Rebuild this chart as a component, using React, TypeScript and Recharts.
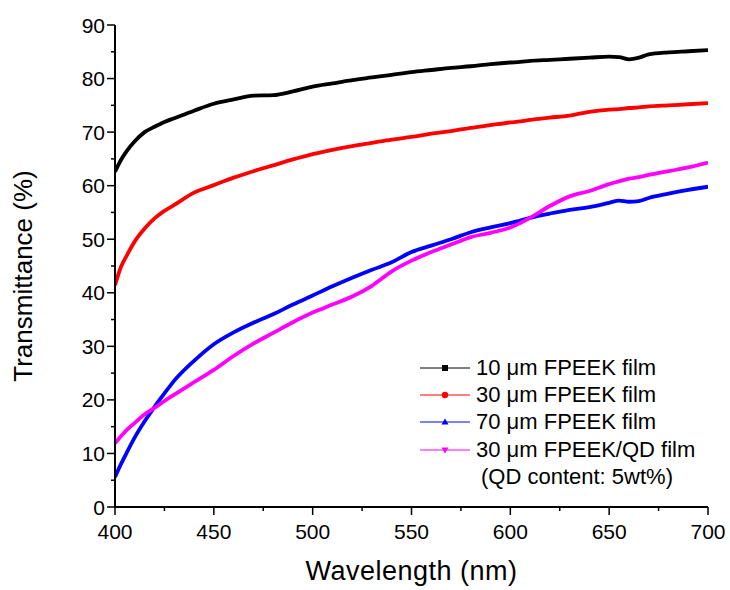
import { Label, Legend, Line, LineChart, XAxis, YAxis } from "recharts";

const FONT = "Arial, 'Liberation Sans', Helvetica, sans-serif";

const wavelengths = [
  400, 403, 406, 410, 415, 420, 425, 430, 440, 450, 460, 470, 480, 490, 500, 510, 520, 530, 540,
  550, 560, 570, 580, 590, 600, 605, 610, 620, 630, 640, 650, 655, 660, 665, 670, 680, 690, 700
];

const film10 = [
  62.6, 64.8, 66.5, 68.3, 70.0, 71.0, 71.9, 72.6, 74.0, 75.3, 76.1, 76.8, 76.9, 77.6, 78.5, 79.1,
  79.7, 80.2, 80.7, 81.2, 81.6, 82.0, 82.3, 82.7, 83.0, 83.1, 83.3, 83.5, 83.7, 83.9, 84.1, 84.0,
  83.6, 83.9, 84.5, 84.9, 85.1, 85.3
];

const film30 = [
  41.4, 44.8, 47.0, 49.6, 52.0, 53.9, 55.3, 56.4, 58.7, 60.1, 61.5, 62.7, 63.8, 64.9, 65.9, 66.7,
  67.4, 68.0, 68.6, 69.1, 69.7, 70.2, 70.8, 71.3, 71.8, 72.0, 72.3, 72.7, 73.1, 73.8, 74.2, 74.3,
  74.5, 74.6, 74.8, 75.0, 75.2, 75.4
];

const film70 = [
  5.6, 8.0, 10.2, 13.0, 16.0, 18.7, 21.2, 23.6, 27.3, 30.4, 32.6, 34.4, 36.0, 37.8, 39.5, 41.2,
  42.8, 44.3, 45.7, 47.6, 48.8, 50.0, 51.3, 52.2, 53.0, 53.5, 54.0, 54.8, 55.5, 56.0, 56.8, 57.2,
  57.0, 57.1, 57.7, 58.5, 59.2, 59.8
];

const film30qd = [
  11.9, 13.2, 14.4, 15.7, 17.3, 18.5, 19.8, 21.0, 23.3, 25.6, 28.2, 30.5, 32.5, 34.5, 36.3, 37.8,
  39.3, 41.3, 44.0, 46.0, 47.6, 49.0, 50.4, 51.2, 52.2, 53.0, 54.0, 56.2, 58.0, 59.0, 60.3, 60.8,
  61.3, 61.6, 62.0, 62.7, 63.4, 64.3
];

const xTicks = [400, 425, 450, 475, 500, 525, 550, 575, 600, 625, 650, 675, 700];
const yTicks = [0, 5, 10, 15, 20, 25, 30, 35, 40, 45, 50, 55, 60, 65, 70, 75, 80, 85, 90];

const series = [
  { key: "film10", name: "10 μm FPEEK film", color: "#000000", marker: "square" },
  { key: "film30", name: "30 μm FPEEK film", color: "#ff0000", marker: "circle" },
  { key: "film70", name: "70 μm FPEEK film", color: "#0000ff", marker: "up" },
  { key: "film30qd", name: "30 μm FPEEK/QD film", color: "#ff00ff", marker: "down" }
];

const data = wavelengths.map((wl, i) => ({
  wl,
  film10: film10[i],
  film30: film30[i],
  film70: film70[i],
  film30qd: film30qd[i]
}));

function AxisTick(props: any) {
  const { x, y, payload, side } = props;
  const v = payload.value;
  const horizontal = side === "bottom" || side === "top";
  const major = horizontal ? v % 50 === 0 : v % 10 === 0;
  const len = major ? 8 : 4;
  const stroke = { stroke: "#000", strokeWidth: 1.5 };

  if (side === "bottom") {
    return (
      <g>
        <line x1={x} x2={x} y1={y} y2={y + len} {...stroke} />
        {major && (
          <text x={x} y={y + 32} textAnchor="middle" fontSize={21} fontFamily={FONT} fill="#000">
            {v}
          </text>
        )}
      </g>
    );
  }
  if (side === "left") {
    return (
      <g>
        <line x1={x - len} x2={x} y1={y} y2={y} {...stroke} />
        {major && (
          <text x={x - 10} y={y + 7.5} textAnchor="end" fontSize={21} fontFamily={FONT} fill="#000">
            {v}
          </text>
        )}
      </g>
    );
  }
  if (side === "top") {
    return <line x1={x} x2={x} y1={y - (major ? 5 : 3)} y2={y} {...stroke} />;
  }
  return <line x1={x} x2={x + (major ? 5 : 3)} y1={y} y2={y} {...stroke} />;
}

function Marker({ type, color }: { type: string; color: string }) {
  if (type === "square") return <rect x={22} y={4} width={6} height={6} fill={color} />;
  if (type === "circle") return <circle cx={25} cy={7} r={3.2} fill={color} />;
  if (type === "up") return <polygon points="25,3.5 28.5,9.5 21.5,9.5" fill={color} />;
  return <polygon points="21.5,4.5 28.5,4.5 25,10.5" fill={color} />;
}

function LegendBox() {
  return (
    <div style={{ fontFamily: FONT, fontSize: 22, color: "#000" }}>
      {series.map((s) => (
        <div key={s.key} style={{ display: "flex", alignItems: "center", height: 27.3 }}>
          <svg width={50} height={14} style={{ flex: "none" }}>
            <line x1={0} x2={50} y1={7} y2={7} stroke={s.color} strokeWidth={1} />
            <Marker type={s.marker} color={s.color} />
          </svg>
          <span style={{ marginLeft: 6, whiteSpace: "nowrap" }}>{s.name}</span>
        </div>
      ))}
      <div style={{ height: 27.3, display: "flex", alignItems: "center", paddingLeft: 61, whiteSpace: "nowrap" }}>
        (QD content: 5wt%)
      </div>
    </div>
  );
}

export default function App() {
  return (
    <div style={{ position: "absolute", left: 0, top: 0, width: 730, height: 590, background: "#fff" }}>
      <LineChart width={730} height={590} data={data} margin={{ top: 25, right: 22, bottom: 0, left: 0 }}>
        <XAxis
          dataKey="wl"
          type="number"
          domain={[400, 700]}
          ticks={xTicks}
          interval={0}
          allowDataOverflow
          height={83}
          tickSize={0}
          tickMargin={0}
          tickLine={false}
          axisLine={{ stroke: "#000", strokeWidth: 2 }}
          tick={(p: any) => <AxisTick {...p} side="bottom" />}
        >
          <Label
            content={(p: any) => {
              const vb = p.viewBox || { x: 115, y: 507, width: 593, height: 83 };
              return (
                <text
                  x={vb.x + vb.width / 2}
                  y={vb.y + vb.height - 10}
                  textAnchor="middle"
                  fontSize={27}
                  letterSpacing={0.5}
                  fontFamily={FONT}
                  fill="#000"
                >
                  Wavelength (nm)
                </text>
              );
            }}
          />
        </XAxis>
        <XAxis
          xAxisId="top"
          orientation="top"
          dataKey="wl"
          type="number"
          domain={[400, 700]}
          ticks={xTicks}
          interval={0}
          allowDataOverflow
          height={0}
          tickSize={0}
          tickMargin={0}
          tickLine={false}
          axisLine={{ stroke: "#000", strokeWidth: 2 }}
          tick={(p: any) => <AxisTick {...p} side="top" />}
        />
        <YAxis
          type="number"
          domain={[0, 90]}
          ticks={yTicks}
          interval={0}
          allowDataOverflow
          width={115}
          tickSize={0}
          tickMargin={0}
          tickLine={false}
          axisLine={{ stroke: "#000", strokeWidth: 2 }}
          tick={(p: any) => <AxisTick {...p} side="left" />}
        >
          <Label
            content={(p: any) => {
              const vb = p.viewBox || { x: 0, y: 25, width: 115, height: 482 };
              const cx = vb.x + 32;
              const cy = vb.y + vb.height / 2 + 10;
              return (
                <text
                  x={cx}
                  y={cy}
                  transform={`rotate(-90, ${cx}, ${cy})`}
                  textAnchor="middle"
                  fontSize={26}
                  fontFamily={FONT}
                  fill="#000"
                >
                  Transmittance (%)
                </text>
              );
            }}
          />
        </YAxis>
        <YAxis
          yAxisId="right"
          orientation="right"
          type="number"
          domain={[0, 90]}
          ticks={yTicks}
          interval={0}
          allowDataOverflow
          width={0}
          tickSize={0}
          tickMargin={0}
          tickLine={false}
          axisLine={{ stroke: "#000", strokeWidth: 2 }}
          tick={(p: any) => <AxisTick {...p} side="right" />}
        />
        <Legend
          layout="vertical"
          align="center"
          verticalAlign="middle"
          content={() => <LegendBox />}
          wrapperStyle={{ position: "absolute", left: 420, top: 354, width: 310, bottom: "auto", right: "auto" }}
        />
        {series.map((s) => (
          <Line
            key={s.key}
            type="monotone"
            dataKey={s.key}
            name={s.name}
            stroke={s.color}
            strokeWidth={3.8}
            dot={false}
            activeDot={false}
            isAnimationActive={false}
          />
        ))}
      </LineChart>
    </div>
  );
}
